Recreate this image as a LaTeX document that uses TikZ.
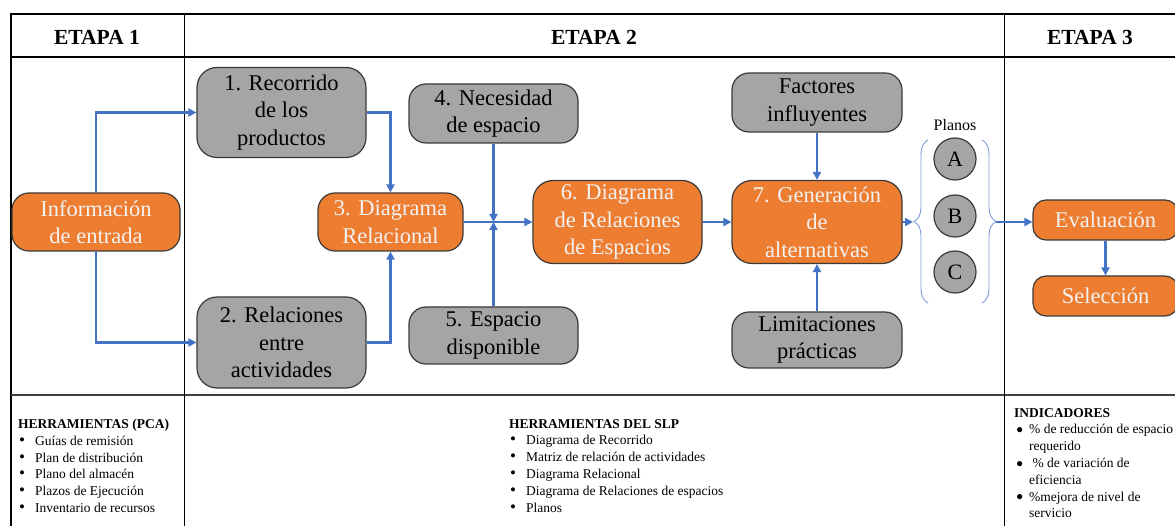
\documentclass[tikz,border=0pt]{standalone}
\usepackage{fontspec}
\setmainfont{Liberation Serif}
\usepackage{tikz}
\usetikzlibrary{arrows.meta}
\usetikzlibrary{positioning}
\usetikzlibrary{decorations.pathreplacing}
\definecolor{naranja}{HTML}{ED7D31}
\definecolor{gris}{HTML}{A5A5A5}
\definecolor{azul}{HTML}{4472C4}
\definecolor{borde}{HTML}{3A3A3A}
\tikzstyle{caja}=[draw=borde,line width=1.2pt,rounded corners=17pt,align=center,inner sep=0pt,font=\fontsize{22.5}{27.5}\selectfont]
\tikzstyle{gcaja}=[caja,fill=gris,text=black]
\tikzstyle{ncaja}=[caja,fill=naranja,text=white!95!black]
\tikzstyle{plano}=[draw=borde,line width=1.2pt,fill=gris,circle,minimum size=42pt,inner sep=0pt,font=\fontsize{22}{27}\selectfont]
\tikzstyle{flecha}=[draw=azul,line width=2.2pt,-{Triangle[length=8pt,width=8pt]}]
\tikzstyle{llave}=[draw=azul!70,line width=0.9pt,decorate,decoration={brace,amplitude=14pt}]
\tikzstyle{etapa}=[font=\fontsize{21.5}{25}\selectfont\bfseries]
\tikzstyle{lista}=[anchor=north west,align=left,inner sep=0pt,font=\fontsize{13.5}{16.8}\selectfont]
\newcommand{\vin}{\makebox[17pt][l]{\hspace*{1pt}{\fontsize{17}{16}\selectfont\textbullet}}}
\newcommand{\vinb}{\makebox[15pt][l]{\hspace*{2pt}\raisebox{0.5pt}{\fontsize{12}{16}\selectfont●}}}
\begin{document}
\begin{tikzpicture}[x=1pt,y=-1pt]
\useasboundingbox (0,0) rectangle (1175,526);
\draw[line width=1.3pt] (11,526) -- (11,14) -- (1175,14);
\draw[line width=1.3pt] (11,57) -- (1175,57);
\draw[line width=1.6pt,black!75] (11,395) -- (1175,395);
\draw[line width=1pt] (184,14) -- (184,526);
\draw[line width=1pt] (1004,14) -- (1004,526);

\node[etapa] (e1) at (97,37) {ETAPA 1};
\node[etapa] (e2) at (594,37) {ETAPA 2};
\node[etapa] (e3) at (1090,37) {ETAPA 3};

\node[ncaja,minimum width=168pt,minimum height=58pt] (info) at (96,222) {Información\\de entrada};
\node[gcaja,minimum width=169pt,minimum height=90pt,rounded corners=20pt] (rec) at (281.5,112.5) {1. Recorrido\\de los\\productos};
\node[gcaja,minimum width=169pt,minimum height=91pt,rounded corners=20pt] (act) at (281.5,342.5) {2. Relaciones\\entre\\actividades};
\node[ncaja,minimum width=145pt,minimum height=58pt] (rel) at (390.5,222) {3. Diagrama\\Relacional};
\node[gcaja,minimum width=169pt,minimum height=59pt] (nec) at (493.5,113.5) {4. Necesidad\\de espacio};
\node[gcaja,minimum width=169pt,minimum height=57pt] (disp) at (493.5,335.5) {5. Espacio\\disponible};
\node[ncaja,minimum width=169pt,minimum height=83pt,rounded corners=20pt] (drep) at (617.5,222) {6. Diagrama\\de Relaciones\\de Espacios};
\node[ncaja,minimum width=170pt,minimum height=83pt,rounded corners=20pt] (gen) at (817,222) {7. Generación\\de\\alternativas};
\node[gcaja,minimum width=170pt,minimum height=59pt] (fact) at (817,102.5) {Factores\\influyentes};
\node[gcaja,minimum width=170pt,minimum height=56pt] (lim) at (817,340) {Limitaciones\\prácticas};

\node[font=\fontsize{16}{19}\selectfont] (planos) at (955,125) {Planos};
\node[plano] (pa) at (955,159) {A};
\node[plano] (pb) at (955,216) {B};
\node[plano] (pc) at (955,272) {C};
\draw[llave] (928,303) -- (928,140);
\draw[llave] (982,140) -- (982,303);
\coordinate (llaveI) at (913,222);
\coordinate (llaveD) at (996,222);

\node[ncaja,minimum width=145pt,minimum height=40pt,rounded corners=13pt] (eval) at (1105.5,220) {Evaluación};
\node[ncaja,minimum width=145pt,minimum height=40pt,rounded corners=13pt] (sel) at (1105.5,296) {Selección};

\coordinate (cruce) at (493.5,222);
\draw[flecha] (info.north) |- (rec.west);
\draw[flecha] (info.south) |- (act.west);
\draw[flecha] (rec.east) -| (rel.north);
\draw[flecha] (act.east) -| (rel.south);
\draw[flecha] (rel.east) -- (drep.west);
\draw[flecha] (nec.south) -- (cruce);
\draw[flecha] (disp.north) -- (cruce);
\draw[flecha] (drep.east) -- (gen.west);
\draw[flecha] (fact.south) -- (gen.north);
\draw[flecha] (lim.north) -- (gen.south);
\draw[flecha] (gen.east) -- (llaveI);
\draw[flecha] (llaveD) -- (eval.west |- llaveD);
\draw[flecha] (eval.south) -- (sel.north);

\node[lista] (herr1) at (18,419) {\textbf{HERRAMIENTAS (PCA)}\\
\vin Guías de remisión\\
\vin Plan de distribución\\
\vin Plano del almacén\\
\vin Plazos de Ejecución\\
\vin Inventario de recursos};
\node[lista] (herr2) at (509,419) {\textbf{HERRAMIENTAS DEL SLP}\\
\vin Diagrama de Recorrido\\
\vin Matriz de relación de actividades\\
\vin Diagrama Relacional\\
\vin Diagrama de Relaciones de espacios\\
\vin Planos};
\node[lista] (indic) at (1014,408) {\textbf{INDICADORES}\\
\vinb \% de reducción de espacio\\
\hspace*{15pt}requerido\\
\vinb\ \% de variación de\\
\hspace*{15pt}eficiencia\\
\vinb \%mejora de nivel de\\
\hspace*{15pt}servicio};
\end{tikzpicture}
\end{document}
